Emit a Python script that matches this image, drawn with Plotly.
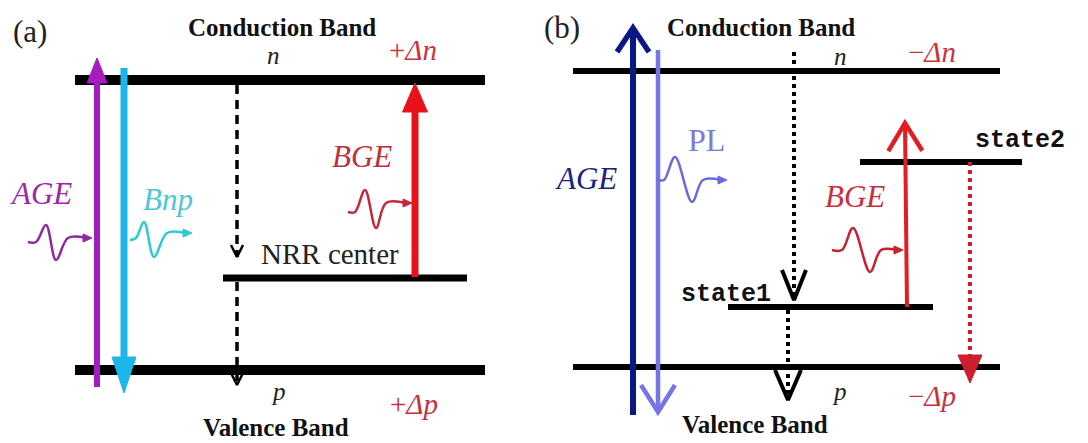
import plotly.graph_objects as go

W, H = 1088, 443
SERIF = "Liberation Serif"
MONO = "Liberation Mono"

# ---------------- energy levels (band edges and trap states) ----------------
LEVEL_X0 = [75, 75, 223, 573, 573, 728, 860]
LEVEL_X1 = [485, 485, 467, 1000, 1000, 933, 1022]
LEVEL_Y = [80, 370, 278, 71, 367, 307, 162]
LEVEL_W = [10, 10, 7, 6, 6, 6, 6]

# ---------------- transition arrows ----------------
ARROW_X0 = [97, 124, 237, 237, 415, 633, 658, 794, 788, 907, 970]
ARROW_Y0 = [387, 68, 85, 282, 277, 415, 50, 52, 310, 307, 162]
ARROW_X1 = [97, 124, 237, 237, 415, 633, 658, 794, 788, 905, 970]
ARROW_Y1 = [58, 393, 257, 385, 83, 28, 412, 300, 400, 123, 383]
ARROW_COLOR = ["#a51cc0", "#1cb6ea", "#000000", "#000000", "#e8121a",
               "#0b1784", "#7575e6", "#000000", "#000000", "#e01e24", "#cc1f2c"]
ARROW_WIDTH = [6, 7, 3.5, 3.5, 7, 6, 4.5, 4, 4, 4, 4]
ARROW_DASH = ["solid", "solid", "9px,6px", "9px,6px", "solid", "solid", "solid",
              "dot", "dot", "solid", "dot"]
ARROW_HEAD = ["fill", "fill", "open", "open", "fill", "open", "open", "open", "open", "open", "fill"]
HEAD_LEN = [25, 36, 12, 12, 29, 24, 27, 30, 30, 28, 28]
HEAD_HW = [10, 12, 6, 6, 12.5, 16, 17, 12, 13, 17, 12]
HEAD_LW = [0, 0, 2.5, 2.5, 0, 5.5, 4.5, 4, 4, 4.5, 0]

# ---------------- photon wave glyphs ----------------
WAVE_X = [
    [28, 36, 46, 56, 68, 92],
    [130, 136, 144, 154, 167, 192],
    [348, 355, 365, 376, 386, 412],
    [658, 664, 675, 692, 703, 727],
    [832, 842, 853, 870, 881, 903],
]
WAVE_Y = [
    [242, 242, 225, 260, 238, 238],
    [240, 238, 222, 257, 233, 233],
    [212, 212, 190, 228, 203, 203],
    [180, 180, 157, 202, 180, 180],
    [250, 250, 228, 272, 250, 250],
]
WAVE_COLOR = ["#8e2a9e", "#2ccad2", "#c42838", "#6a6ae0", "#c8202c"]

# ---------------- labels ----------------
LABEL_TEXT = ["(a)", "<b>Conduction Band</b>", "<i>n</i>", "+<i>Δn</i>", "<i>BGE</i>",
              "<i>AGE</i>", "<i>Bnp</i>", "NRR center", "<i>p</i>", "+<i>Δp</i>",
              "<b>Valence Band</b>",
              "(b)", "<b>Conduction Band</b>", "<i>n</i>", "−<i>Δn</i>", "<i>AGE</i>",
              "PL", "<i>BGE</i>", "<b>state1</b>", "<b>state2</b>", "<i>p</i>",
              "−<i>Δp</i>", "<b>Valence Band</b>"]
LABEL_X = [30, 282, 273, 413, 362, 41, 168, 330, 278, 414, 276,
           562, 761, 840, 932, 586, 706, 855, 726, 1020, 839, 932, 755]
LABEL_Y = [31, 27, 55, 50, 156, 193, 199, 254, 391, 404, 427,
           27, 27, 56, 52, 178, 140, 196, 294, 140, 391, 396, 424]
LABEL_SIZE = [31, 25, 25, 29, 31, 31, 31, 29, 25, 29, 25,
              31, 25, 25, 29, 31, 32, 31, 25, 25, 25, 29, 25]
LABEL_COLOR = ["#222222", "#111111", "#222222", "#d0303e", "#c0303a", "#9a2aa8", "#4ec6d6",
               "#222222", "#222222", "#c8303e", "#111111",
               "#222222", "#111111", "#222222", "#d0303e", "#1a237e", "#7a7ae0",
               "#c8303e", "#111111", "#111111", "#222222", "#c8303e", "#111111"]
LABEL_FONT = [SERIF] * 18 + [MONO, MONO] + [SERIF] * 3

fig = go.Figure()


def line(xs, ys, color, width, dash="solid", shape="linear"):
    fig.add_trace(go.Scatter(x=xs, y=ys, mode="lines",
                             line=dict(color=color, width=width, dash=dash, shape=shape),
                             hoverinfo="skip", showlegend=False))


def tri(xs, ys, color):
    fig.add_trace(go.Scatter(x=xs, y=ys, mode="lines", fill="toself", fillcolor=color,
                             line=dict(color=color, width=1),
                             hoverinfo="skip", showlegend=False))


# levels
for x0, x1, y, w in zip(LEVEL_X0, LEVEL_X1, LEVEL_Y, LEVEL_W):
    line([x0, x1], [y, y], "#000000", w)

# arrows
for i in range(len(ARROW_X0)):
    x0, y0, x1, y1 = ARROW_X0[i], ARROW_Y0[i], ARROW_X1[i], ARROW_Y1[i]
    dx, dy = x1 - x0, y1 - y0
    L = (dx * dx + dy * dy) ** 0.5
    ux, uy = dx / L, dy / L
    px, py = -uy, ux
    hl, hw = HEAD_LEN[i], HEAD_HW[i]
    bx, by = x1 - ux * hl, y1 - uy * hl
    c = ARROW_COLOR[i]
    if ARROW_HEAD[i] == "fill":
        line([x0, bx + ux * 2], [y0, by + uy * 2], c, ARROW_WIDTH[i], ARROW_DASH[i])
        tri([bx + px * hw, x1, bx - px * hw, bx + px * hw],
            [by + py * hw, y1, by - py * hw, by + py * hw], c)
    else:
        line([x0, x1], [y0, y1], c, ARROW_WIDTH[i], ARROW_DASH[i])
        line([bx + px * hw, x1, bx - px * hw], [by + py * hw, y1, by - py * hw], c, HEAD_LW[i])

# waves
for xs, ys, c in zip(WAVE_X, WAVE_Y, WAVE_COLOR):
    tip = xs[-1]
    xs2 = xs[:-1] + [tip - 6]
    line(xs2, ys, c, 2.5, shape="spline")
    yt = ys[-1]
    tri([tip - 9, tip, tip - 9, tip - 9], [yt - 4, yt, yt + 4, yt - 4], c)

# labels
for t, x, y, s, c, f in zip(LABEL_TEXT, LABEL_X, LABEL_Y, LABEL_SIZE, LABEL_COLOR, LABEL_FONT):
    fig.add_annotation(x=x, y=y, xref="x", yref="y", text=t, showarrow=False,
                       xanchor="center", yanchor="middle",
                       font=dict(family=f, size=s, color=c))

fig.update_layout(
    width=W, height=H, margin=dict(l=0, r=0, t=0, b=0),
    paper_bgcolor="white", plot_bgcolor="white",
    xaxis=dict(range=[0, W], visible=False, fixedrange=True),
    yaxis=dict(range=[H, 0], visible=False, fixedrange=True),
)
fig.write_html("out.html")
